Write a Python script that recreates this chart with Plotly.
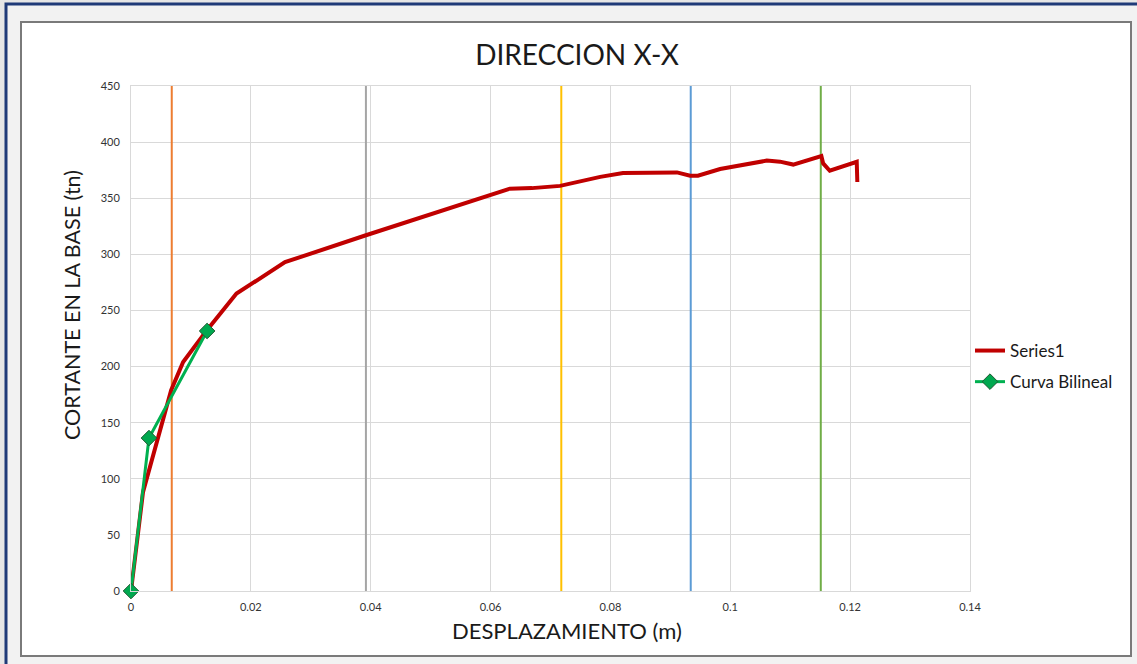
import plotly.graph_objects as go

# ---- data ----
series1_x = [0, 0.0020, 0.0067, 0.0087, 0.0126, 0.0176, 0.0257, 0.0392, 0.0632, 0.0669,
             0.0716, 0.0783, 0.0821, 0.0911, 0.0933, 0.0946, 0.0983, 0.1061, 0.1083, 0.1105,
             0.1152, 0.1155, 0.1166, 0.1211, 0.1212]
series1_y = [0, 88, 179, 204, 232, 265, 293, 317, 358.5, 359,
             361, 369, 372.5, 373, 370, 370, 376, 383.5, 382.6, 380,
             387.5, 381, 374.5, 382.5, 364.5]

bilineal_x = [0, 0.0030, 0.0127]
bilineal_y = [0, 136.3, 231.7]

vline_x = [0.0068, 0.0392, 0.0718, 0.0934, 0.1151]
vline_colors = ["#ED7D31", "#A5A5A5", "#FFC000", "#5B9BD5", "#70AD47"]
vline_y = [0, 450]

x_ticks = [0, 0.02, 0.04, 0.06, 0.08, 0.1, 0.12, 0.14]
x_ticklabels = ["0", "0.02", "0.04", "0.06", "0.08", "0.1", "0.12", "0.14"]
y_ticks = [0, 50, 100, 150, 200, 250, 300, 350, 400, 450]

FONT = "Lato, 'Open Sans', sans-serif"
W, H = 1137, 664
L, R, T, B = 131, 970, 86, 591  # plot area in pixels


def px(xp):
    return (xp - L) / (R - L)


def py(yp):
    return (B - yp) / (B - T)


fig = go.Figure()

for vx, vc in zip(vline_x, vline_colors):
    fig.add_trace(go.Scatter(x=[vx, vx], y=vline_y, mode="lines",
                             line=dict(color=vc, width=2), showlegend=False,
                             hoverinfo="skip"))

fig.add_trace(go.Scatter(x=series1_x, y=series1_y, mode="lines", name="Series1",
                         line=dict(color="#C00000", width=4), legendgroup="a"))
fig.add_trace(go.Scatter(x=bilineal_x, y=bilineal_y, mode="lines+markers",
                         name="Curva Bilineal", legendgroup="b",
                         line=dict(color="#00B050", width=3),
                         marker=dict(symbol="diamond", size=12, color="#00A84F",
                                     line=dict(color="#1E5A32", width=1)),
                         cliponaxis=False))

shapes = [
    dict(type="rect", xref="paper", yref="paper", x0=px(0), x1=px(W), y0=py(H), y1=py(0),
         fillcolor="#e6e6e6", line=dict(width=0), layer="below"),
    dict(type="rect", xref="paper", yref="paper", x0=px(6), x1=px(W + 20), y0=py(H + 20), y1=py(4),
         fillcolor="#f2f2f2", line=dict(color="#1F3A78", width=3), layer="below"),
    dict(type="rect", xref="paper", yref="paper", x0=px(21), x1=px(1131), y0=py(656), y1=py(22),
         fillcolor="white", line=dict(color="#7a7a7a", width=2), layer="below"),
]

fig.update_layout(
    width=W, height=H,
    margin=dict(l=L, r=W - R, t=T, b=H - B, pad=0),
    paper_bgcolor="white", plot_bgcolor="white",
    font=dict(family=FONT, color="#404040"),
    title=dict(text="DIRECCION X-X", x=px(577), xref="paper", xanchor="center",
               y=1 - 55 / H, yref="container", yanchor="middle",
               font=dict(family=FONT, size=28, color="#1a1a1a")),
    xaxis=dict(range=[0, 0.14], tickvals=x_ticks, ticktext=x_ticklabels,
               showgrid=True, gridcolor="#d9d9d9", gridwidth=1,
               zeroline=False, showline=True, linecolor="#d9d9d9", mirror=True,
               ticks="outside", ticklen=6, tickcolor="rgba(0,0,0,0)",
               tickfont=dict(family=FONT, size=11, color="#333333")),
    yaxis=dict(range=[0, 450], tickvals=y_ticks,
               showgrid=True, gridcolor="#d9d9d9", gridwidth=1,
               zeroline=False, showline=True, linecolor="#d9d9d9", mirror=True,
               ticks="outside", ticklen=8, tickcolor="rgba(0,0,0,0)",
               tickfont=dict(family=FONT, size=11, color="#333333")),
    legend=dict(x=px(970), y=py(333), xanchor="left", yanchor="top",
                traceorder="grouped", tracegroupgap=6,
                itemwidth=30,
                font=dict(family=FONT, size=17, color="#1a1a1a"),
                bgcolor="rgba(0,0,0,0)"),
    shapes=shapes,
    annotations=[
        dict(text="CORTANTE EN LA BASE (tn)", xref="paper", yref="paper",
             x=px(72), y=py(305), textangle=-90, showarrow=False,
             xanchor="center", yanchor="middle",
             font=dict(family=FONT, size=21.5, color="#1a1a1a")),
        dict(text="DESPLAZAMIENTO (m)", xref="paper", yref="paper",
             x=px(567), y=py(630), showarrow=False,
             xanchor="center", yanchor="middle",
             font=dict(family=FONT, size=22, color="#1a1a1a")),
    ],
)

fig.write_html("out.html", config={"displayModeBar": False},
               post_script="document.body.style.margin='0';document.body.style.overflow='hidden';")
